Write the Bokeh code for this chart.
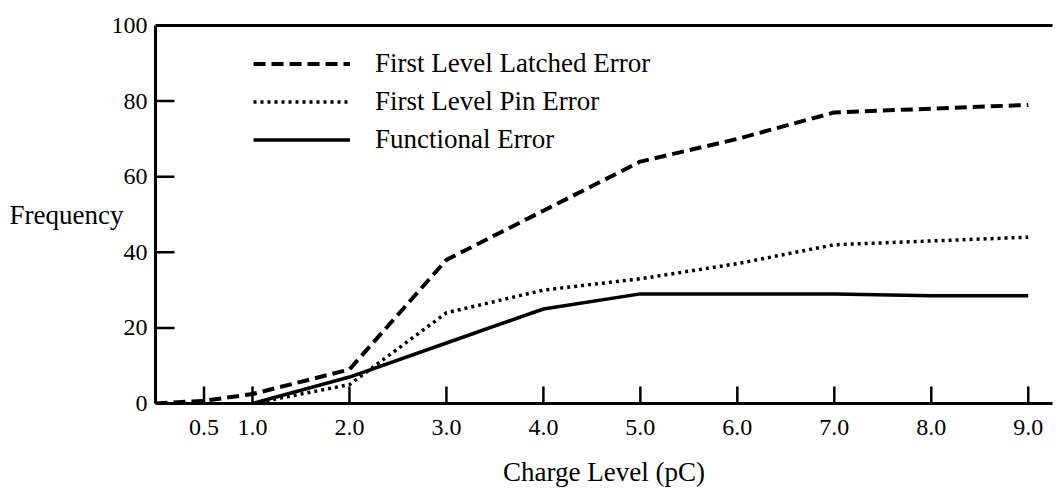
from bokeh.plotting import figure
from bokeh.models import Range1d, FixedTicker, Legend, LegendItem, LinearAxis
from bokeh.embed import file_html
from bokeh.resources import INLINE

# ---- data ----
latched_x = [0.0, 0.5, 1.0, 2.0, 3.0, 4.0, 5.0, 6.0, 7.0, 8.0, 9.0]
latched_y = [0.0, 0.7, 2.5, 9.0, 38.0, 51.0, 64.0, 70.0, 77.0, 78.0, 79.0]

pin_x = [1.0, 2.0, 3.0, 4.0, 5.0, 6.0, 7.0, 8.0, 9.0]
pin_y = [0.0, 5.0, 24.0, 30.0, 33.0, 37.0, 42.0, 43.0, 44.0]

func_x = [1.0, 2.0, 3.0, 4.0, 5.0, 6.0, 7.0, 8.0, 9.0]
func_y = [0.0, 7.0, 16.0, 25.0, 29.0, 29.0, 29.0, 28.5, 28.5]

series_names = ["First Level Latched Error", "First Level Pin Error", "Functional Error"]

x_ticks = [0.5, 1.0, 2.0, 3.0, 4.0, 5.0, 6.0, 7.0, 8.0, 9.0]
x_tick_labels = ["0.5", "1.0", "2.0", "3.0", "4.0", "5.0", "6.0", "7.0", "8.0", "9.0"]
y_ticks = [0, 20, 40, 60, 80, 100]
y_tick_marks = [20, 40, 60, 80]

FONT = "Liberation Serif"

p = figure(width=1057, height=489, output_backend="svg", toolbar_location=None,
           x_range=Range1d(0, 9.25), y_range=Range1d(0, 100),
           min_border_left=155, min_border_right=5, min_border_top=25, min_border_bottom=86,
           x_axis_label="Charge Level (pC)", y_axis_label="Frequency")

p.xgrid.visible = False
p.ygrid.visible = False
p.outline_line_color = None
p.background_fill_color = "white"
p.border_fill_color = "white"

r1 = p.line(latched_x, latched_y, line_color="black", line_width=4, line_dash="12 6")
r2 = p.line(pin_x, pin_y, line_color="black", line_width=3.5, line_dash="3 4")
r3 = p.line(func_x, func_y, line_color="black", line_width=3.5, line_join="round")

# inward tick marks (drawn as short screen-length rays from the axes)
p.ray(x=x_ticks, y=[0] * len(x_ticks), length=17, length_units="screen",
      angle=90, angle_units="deg", line_color="black", line_width=2.5)
p.ray(x=[0] * len(y_tick_marks), y=y_tick_marks, length=19, length_units="screen",
      angle=0, angle_units="deg", line_color="black", line_width=2.5)

# axes
xa = p.xaxis[0]
xa.ticker = FixedTicker(ticks=x_ticks)
xa.major_label_overrides = {t: l for t, l in zip(x_ticks, x_tick_labels)}
xa.major_tick_in = 0
xa.major_tick_out = 0
xa.major_tick_line_color = None
xa.minor_tick_line_color = None
xa.axis_line_width = 3
xa.major_label_standoff = 16
xa.major_label_text_font = FONT
xa.major_label_text_font_size = "24px"
xa.major_label_text_color = "black"
xa.axis_label_text_font = FONT
xa.axis_label_text_font_size = "27px"
xa.axis_label_text_font_style = "normal"
xa.axis_label_text_color = "black"
xa.axis_label_standoff = 19

ya = p.yaxis[0]
ya.ticker = FixedTicker(ticks=y_ticks)
ya.major_tick_in = 0
ya.major_tick_out = 0
ya.major_tick_line_color = None
ya.minor_tick_line_color = None
ya.axis_line_width = 3
ya.major_label_standoff = 8
ya.major_label_text_font = FONT
ya.major_label_text_font_size = "24px"
ya.major_label_text_color = "black"
ya.axis_label_text_font = FONT
ya.axis_label_text_font_size = "27px"
ya.axis_label_text_font_style = "normal"
ya.axis_label_text_color = "black"
ya.axis_label_orientation = "horizontal"
ya.axis_label_standoff = -15

top = LinearAxis(ticker=FixedTicker(ticks=[]), axis_line_width=3,
                 major_label_text_font_size="0px", major_tick_line_color=None,
                 minor_tick_line_color=None)
p.add_layout(top, "above")

legend = Legend(items=[LegendItem(label=series_names[0], renderers=[r1]),
                       LegendItem(label=series_names[1], renderers=[r2]),
                       LegendItem(label=series_names[2], renderers=[r3])],
                location=(98, 248), orientation="vertical",
                glyph_width=97, glyph_height=29, label_height=29, spacing=7,
                label_standoff=25, padding=0, margin=0,
                border_line_color=None, background_fill_alpha=0,
                label_text_font=FONT, label_text_font_size="27px",
                label_text_color="black")
p.add_layout(legend, "center")

open("out.html", "w").write(file_html(p, INLINE))
